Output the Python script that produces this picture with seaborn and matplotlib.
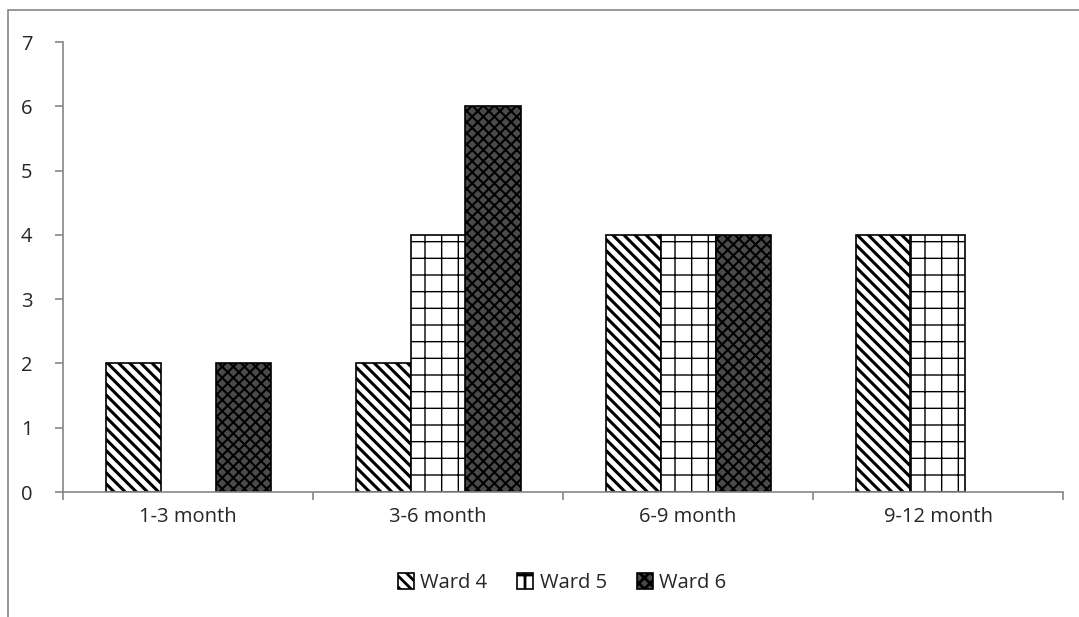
import matplotlib
matplotlib.use("Agg")
import matplotlib.pyplot as plt
from matplotlib.patches import Rectangle
import seaborn as sns
import pandas as pd
import numpy as np

#data
periods = ["1-3 month", "3-6 month", "6-9 month", "9-12 month"]
wards = ["Ward 4", "Ward 5", "Ward 6"]
ward4 = [2, 2, 4, 4]
ward5 = [0, 4, 4, 4]
ward6 = [2, 6, 4, 0]

df = pd.DataFrame({
	"period": periods * 3,
	"ward": [w for w in wards for _ in periods],
	"count": ward4 + ward5 + ward6,
})

#style
sns.set_style("white")
plt.rcParams["font.family"] = ["Open Sans", "DejaVu Sans"]
plt.rcParams["hatch.linewidth"] = 2.0

faces = {"Ward 4": "white", "Ward 5": "white", "Ward 6": "#4a4a4a"}
hatches = {"Ward 4": "\\\\\\", "Ward 5": "+", "Ward 6": "xxx"}
hatch_widths = {"Ward 4": 2.2, "Ward 5": 1.0, "Ward 6": 1.5}

fig = plt.figure(figsize = (10.79, 6.17), dpi = 100)
ax = fig.add_axes([63/1079, 1 - 492/617, 1000/1079, 450/617])

sns.barplot(data = df, x = "period", y = "count", hue = "ward", order = periods, hue_order = wards,
	palette = faces, width = 0.66, errorbar = None, edgecolor = "black", linewidth = 1.2, ax = ax)

#apply hatches, bars ordered by hue then category
for i, w in enumerate(wards):
	for j in range(len(periods)):
		p = ax.patches[i * len(periods) + j]
		p.set_hatch(hatches[w])
		p.set_facecolor(faces[w])
		p.set_edgecolor("black")
		if hasattr(p, "set_hatch_linewidth"):
			p.set_hatch_linewidth(hatch_widths[w])
		if p.get_height() == 0:
			p.set_visible(False)

ax.set_ylim(0, 7)
ax.set_xlim(-0.5, 3.5)
ax.set_yticks(range(0, 8))
ax.set_xlabel("")
ax.set_ylabel("")

for s in ["top", "right"]:
	ax.spines[s].set_visible(False)
for s in ["left", "bottom"]:
	ax.spines[s].set_color("#868686")
	ax.spines[s].set_linewidth(1.2)

ax.tick_params(axis = "y", direction = "out", length = 6, color = "#868686", width = 1.2, labelsize = 14.5, pad = 16, left = True)
ax.tick_params(axis = "x", which = "major", length = 0, labelsize = 14.5, pad = 11)
ax.set_xticks(np.arange(-0.5, 4, 1), minor = True)
ax.tick_params(axis = "x", which = "minor", direction = "out", length = 6, color = "#868686", width = 1.2, bottom = True)

#legend
handles = []
for w in wards:
	r = Rectangle((0, 0), 1, 1, facecolor = faces[w], hatch = hatches[w], edgecolor = "black", linewidth = 1.2)
	if hasattr(r, "set_hatch_linewidth"):
		r.set_hatch_linewidth(hatch_widths[w])
	handles.append(r)
ax.legend(handles, wards, loc = "center", bbox_to_anchor = (562 / 1079, (617 - 583) / 617), bbox_transform = fig.transFigure,
	ncol = 3, frameon = False, fontsize = 14.5, handlelength = 0.8, handleheight = 0.8, handletextpad = 0.3, columnspacing = 1.5)

#outer chart frame
fig.patches.append(Rectangle((8/1079, -0.1), 1.2, 1.1 - 10/617, transform = fig.transFigure,
	fill = False, edgecolor = "#868686", linewidth = 1.2))

fig.savefig("out.png", dpi = 100)
